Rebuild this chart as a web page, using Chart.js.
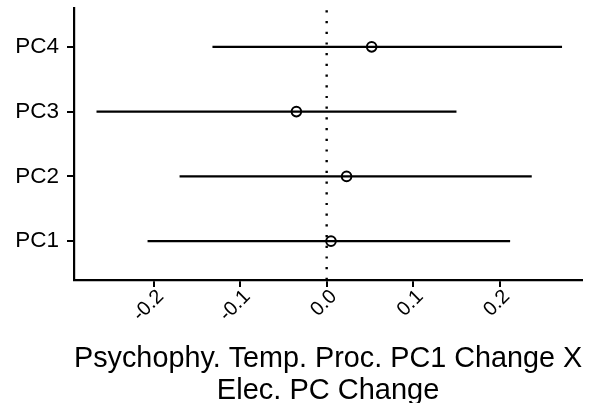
<!DOCTYPE html>
<html lang="en">
  <head>
    <meta charset="UTF-8" />
    <title>PC Change Interaction</title>
    <style>
      body {
        margin: 0;
        padding: 0;
        background-color: #fff;
      }
      .chart {
        width: 589px;
        height: 403px;
      }
    </style>
  </head>
  <body>
    <div class="chart">
      <canvas id="pcChart"></canvas>
    </div>

    <script src="https://cdn.jsdelivr.net/npm/chart.js"></script>
    <script>
      // Values
      const categories = ["PC1", "PC2", "PC3", "PC4"];
      const estimates = [0.005, 0.023, -0.035, 0.052];
      const lower = [-0.207, -0.17, -0.266, -0.132];
      const upper = [0.212, 0.237, 0.15, 0.272];
      const xTicks = [-0.2, -0.1, 0.0, 0.1, 0.2];
      const titleLines = ["Psychophy. Temp. Proc. PC1 Change X", "Elec. PC Change"];

      const fontFamily = "'Liberation Sans', Arial, sans-serif";

      // one line dataset per interval
      const intervalSets = categories.map((c, i) => ({
        label: c + " interval",
        data: [
          { x: lower[i], y: i + 1 },
          { x: upper[i], y: i + 1 },
        ],
        borderColor: "#000",
        borderWidth: 2.2,
        pointRadius: 0,
        showLine: true,
      }));

      const chart = new Chart(document.getElementById("pcChart"), {
        type: "scatter",
        data: {
          datasets: [
            {
              label: "zero",
              data: [
                { x: 0, y: 0.4 },
                { x: 0, y: 4.6 },
              ],
              borderColor: "#000",
              borderWidth: 2.4,
              borderDash: [2.2, 8.5],
              pointRadius: 0,
              showLine: true,
            },
            ...intervalSets,
            {
              label: "estimate",
              data: estimates.map((v, i) => ({ x: v, y: i + 1 })),
              pointStyle: "circle",
              pointRadius: 4.8,
              pointBorderWidth: 2,
              pointBorderColor: "#000",
              pointBackgroundColor: "rgba(0,0,0,0)",
              showLine: false,
            },
          ],
        },
        options: {
          responsive: true,
          maintainAspectRatio: false,
          animation: false,
          layout: { padding: { top: 8, right: 0, left: 0, bottom: 0 } },
          plugins: {
            legend: { display: false },
            tooltip: { enabled: false },
          },
          scales: {
            x: {
              type: "linear",
              min: -0.292,
              max: 0.2953,
              afterBuildTicks: (scale) => {
                scale.ticks = xTicks.map((v) => ({ value: v }));
              },
              afterFit: (scale) => {
                scale.height = 123;
                scale.paddingLeft = 0;
                scale.paddingRight = 0;
              },
              border: { display: true, color: "#000", width: 2.2 },
              grid: {
                drawOnChartArea: false,
                drawTicks: true,
                tickLength: 7,
                color: "#000",
                lineWidth: 2,
              },
              ticks: {
                minRotation: 45,
                maxRotation: 45,
                padding: -2,
                labelOffset: 7,
                color: "#000",
                font: { family: fontFamily, size: 20 },
                callback: (v) => Number(v).toFixed(1),
              },
              title: {
                display: true,
                text: titleLines,
                color: "#000",
                font: { family: fontFamily, size: 29, lineHeight: 1.1 },
                padding: { top: 0, bottom: -4 },
              },
            },
            y: {
              type: "linear",
              min: 0.4,
              max: 4.6,
              afterBuildTicks: (scale) => {
                scale.ticks = categories.map((c, i) => ({ value: i + 1 }));
              },
              afterFit: (scale) => {
                scale.width = 74;
                scale.paddingTop = 0;
                scale.paddingBottom = 0;
              },
              border: { display: true, color: "#000", width: 2.2 },
              grid: {
                drawOnChartArea: false,
                drawTicks: true,
                tickLength: 7,
                color: "#000",
                lineWidth: 2,
              },
              ticks: {
                padding: 8,
                color: "#000",
                font: { family: fontFamily, size: 22.5 },
                callback: (v) => categories[Math.round(v) - 1] || "",
              },
            },
          },
        },
      });
    </script>
  </body>
</html>
